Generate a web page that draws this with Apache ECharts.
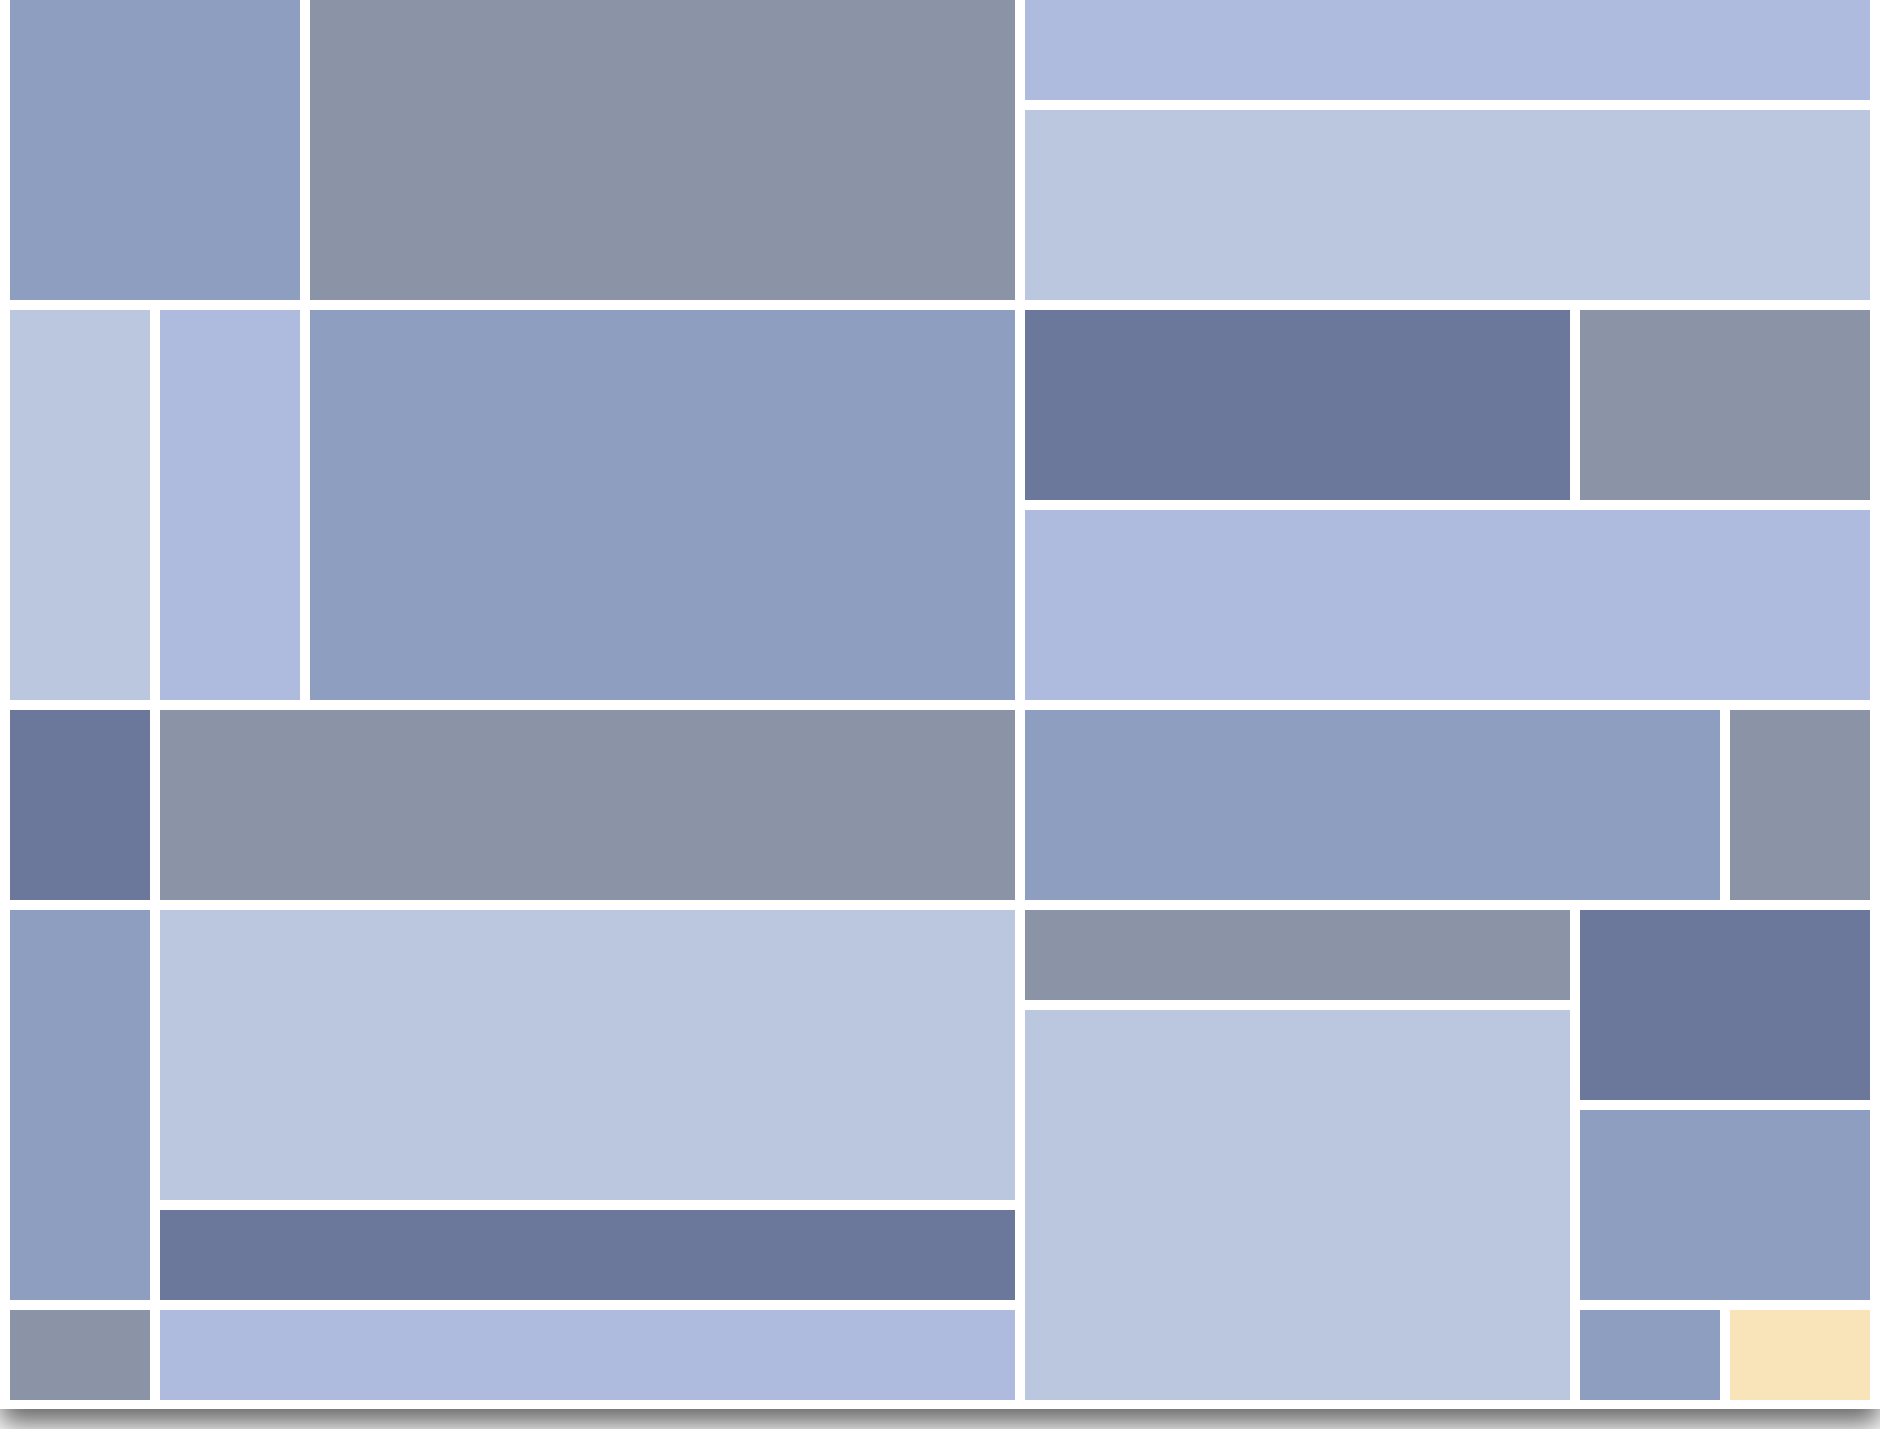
<!DOCTYPE html>
<html style="height: 100%">
   <head>
       <meta charset="utf-8">
   </head>
   <body style="height: 100%; margin: 0">
       <div id="container" style="width: 1880px; height: 1429px"></div>
       <script type="text/javascript" src="https://cdn.jsdelivr.net/npm/echarts@6/dist/echarts.min.js"></script>
       <script type="text/javascript">
var dom = document.getElementById("container");
var myChart = echarts.init(dom);

// column / row boundaries of the grid (axis units)
var colEdges = [10, 160, 310, 1025, 1580, 1730, 1880];
var rowEdges = [-10, 100, 300, 500, 700, 900, 1000, 1100, 1200, 1300, 1400];
var gap = 10;

var palette = ['#8e9ec1', '#8b93a6', '#aebbdf', '#bbc7df', '#6b789b', '#f9e3b8'];

// [colStart, colEnd, rowStart, rowEnd, colour index]
var cells = [
    [0, 2, 0, 2, 0],
    [2, 3, 0, 2, 1],
    [3, 6, 0, 1, 2],
    [3, 6, 1, 2, 3],
    [0, 1, 2, 4, 3],
    [1, 2, 2, 4, 2],
    [2, 3, 2, 4, 0],
    [3, 4, 2, 3, 4],
    [4, 6, 2, 3, 1],
    [3, 6, 3, 4, 2],
    [0, 1, 4, 5, 4],
    [1, 3, 4, 5, 1],
    [3, 5, 4, 5, 0],
    [5, 6, 4, 5, 1],
    [0, 1, 5, 9, 0],
    [1, 3, 5, 8, 3],
    [1, 3, 8, 9, 4],
    [3, 4, 5, 6, 1],
    [3, 4, 6, 10, 3],
    [4, 6, 5, 7, 4],
    [4, 6, 7, 9, 0],
    [0, 1, 9, 10, 1],
    [1, 3, 9, 10, 2],
    [4, 5, 9, 10, 0],
    [5, 6, 9, 10, 5]
];

function renderItem(params, api) {
    var x0 = colEdges[api.value(0)];
    var x1 = colEdges[api.value(1)] - gap;
    var y0 = rowEdges[api.value(2)] + gap;
    var y1 = rowEdges[api.value(3)];
    var p0 = api.coord([x0, y0]);
    var p1 = api.coord([x1, y1]);
    return {
        type: 'rect',
        shape: {x: p0[0], y: p0[1], width: p1[0] - p0[0], height: p1[1] - p0[1]},
        style: {fill: palette[api.value(4)]}
    };
}

var option = {
    backgroundColor: '#fff',
    animation: false,
    grid: {left: 0, right: 0, top: 0, bottom: 0},
    xAxis: {type: 'value', min: 0, max: 1880, show: false},
    yAxis: {type: 'value', min: 0, max: 1429, inverse: true, show: false},
    graphic: [{
        type: 'rect',
        z: -10,
        shape: {x: 0, y: 0, width: 1880, height: 1409},
        style: {
            fill: '#fff',
            shadowBlur: 26,
            shadowOffsetY: 15,
            shadowColor: 'rgba(0,0,0,0.6)'
        }
    }],
    series: [{
        type: 'custom',
        renderItem: renderItem,
        clip: false,
        data: cells
    }]
};

myChart.setOption(option);
       </script>
   </body>
</html>
